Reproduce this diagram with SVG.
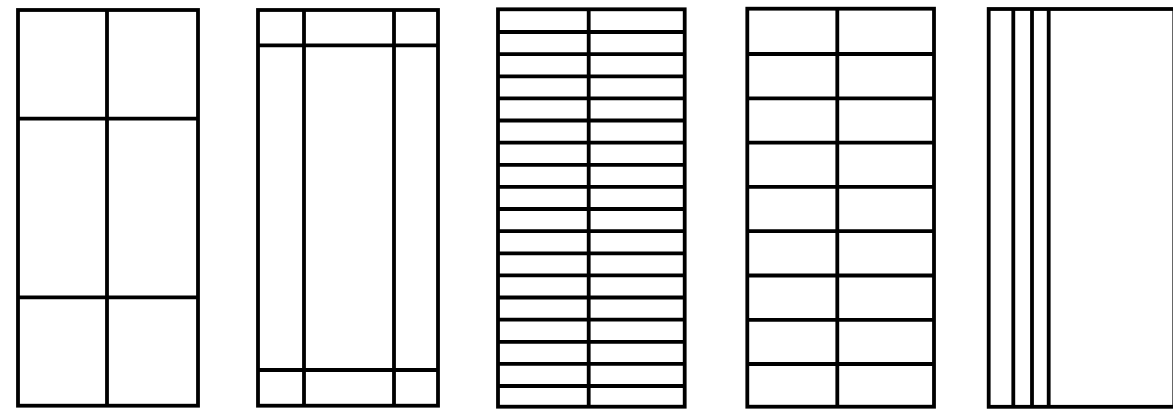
<svg xmlns="http://www.w3.org/2000/svg" width="1173" height="412" viewBox="0 0 1173 412">
<style>
.f{fill:none;stroke:#000;stroke-width:3.8}
.l{stroke:#000;stroke-width:3.8;fill:none}
</style>
<rect width="1173" height="412" fill="#fff"/>
<g id="panel1">
<rect class="f" x="18" y="10" width="180" height="395.7"/>
<path class="l" d="M107 10V405.7M18 118.7H198M18 297.3H198"/>
</g>
<g id="panel2">
<rect class="f" x="258" y="10" width="180" height="395.7"/>
<path class="l" d="M304 10V405.7M394 10V405.7M258 45.3H438M258 370H438"/>
</g>
<g id="panel3">
<rect class="f" x="498" y="9.3" width="186.7" height="397.4"/>
<path class="l" d="M588.7 9.3V406.7M498 32H684.7M498 54.1H684.7M498 76.3H684.7M498 98.4H684.7M498 120.5H684.7M498 142.6H684.7M498 164.8H684.7M498 186.9H684.7M498 209H684.7M498 231.1H684.7M498 253.3H684.7M498 275.4H684.7M498 297.5H684.7M498 319.6H684.7M498 341.8H684.7M498 363.9H684.7M498 386H684.7"/>
</g>
<g id="panel4">
<rect class="f" x="747.3" y="8.7" width="186.7" height="398"/>
<path class="l" d="M837.3 8.7V406.7M747.3 54H934M747.3 98.3H934M747.3 142.6H934M747.3 186.9H934M747.3 231.2H934M747.3 275.5H934M747.3 319.8H934M747.3 364H934"/>
</g>
<g id="panel5">
<rect class="f" x="988.7" y="9" width="185.6" height="397.8"/>
<path class="l" d="M1013.3 9V406.8M1032 9V406.8M1048.7 9V406.8"/>
</g>
<g id="connectors"/>
</svg>
